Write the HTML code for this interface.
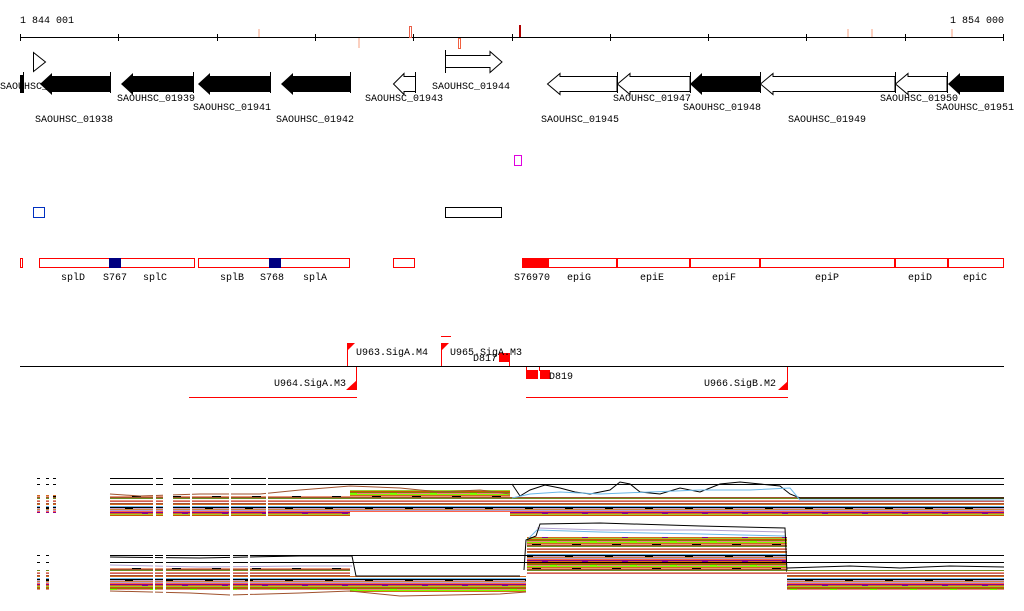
<!DOCTYPE html>
<html><head><meta charset="utf-8"><style>
html,body{margin:0;padding:0;background:#fff;width:1024px;height:611px;overflow:hidden}
svg text{font-family:"Liberation Mono",monospace;font-size:10px;fill:#000}
</style></head><body>
<svg width="1024" height="611" viewBox="0 0 1024 611" xmlns="http://www.w3.org/2000/svg">
<defs>
<pattern id="band" width="40" height="24" patternUnits="userSpaceOnUse">
<rect width="40" height="24" fill="#e07040"/>
<rect y="0" width="40" height="1" fill="#d2691e"/>
<rect y="1" width="40" height="1" fill="#fff"/>
<rect y="2" width="40" height="1" fill="#6ab7e8"/>
<rect y="3" width="40" height="1" fill="#000"/>
<rect y="4" width="40" height="1" fill="#c8a0c8"/>
<rect y="5" width="40" height="1" fill="#cd853f"/>
<rect y="6" width="40" height="1" fill="#b0a0d0"/>
<rect y="7" width="40" height="1" fill="#ff6347"/>
<rect y="8" width="40" height="1" fill="#8b008b"/>
<rect y="9" width="40" height="1" fill="#d2691e"/>
<rect y="10" width="40" height="1" fill="#9acd32"/>
<rect y="11" width="40" height="1" fill="#cc5500"/>
<rect y="12" width="40" height="1" fill="#808000"/>
<rect y="13" width="40" height="1" fill="#f08080"/>
<rect y="14" width="40" height="1" fill="#7cfc00"/>
<rect y="15" width="40" height="1" fill="#d2691e"/>
<rect y="16" width="40" height="1" fill="#e9967a"/>
<rect y="17" width="40" height="1" fill="#a0522d"/>
<rect y="18" width="40" height="1" fill="#6b8e23"/>
<rect y="19" width="40" height="1" fill="#fff"/>
<rect y="20" width="40" height="1" fill="#e9967a"/>
<rect y="21" width="40" height="1" fill="#cd5c5c"/>
<rect y="22" width="40" height="1" fill="#fff"/>
<rect y="23" width="40" height="1" fill="#a0522d"/>
<rect x="5" y="4" width="8" height="1" fill="#000"/>
<rect x="22" y="9" width="6" height="1" fill="#8b008b"/>
<rect x="30" y="13" width="7" height="1" fill="#7cfc00"/>
<rect x="12" y="16" width="9" height="1" fill="#000"/>
</pattern>
</defs>
<!-- axis -->
<text x="20" y="23">1 844 001</text>
<text x="1004" y="23" text-anchor="end">1 854 000</text>
<line x1="20" y1="37.5" x2="1004" y2="37.5" stroke="#000"/>
<g stroke="#000">
<line x1="20.5" y1="34" x2="20.5" y2="41"/><line x1="118.5" y1="34" x2="118.5" y2="41"/><line x1="217.5" y1="34" x2="217.5" y2="41"/><line x1="315.5" y1="34" x2="315.5" y2="41"/><line x1="413.5" y1="34" x2="413.5" y2="41"/><line x1="512.5" y1="34" x2="512.5" y2="41"/><line x1="610.5" y1="34" x2="610.5" y2="41"/><line x1="708.5" y1="34" x2="708.5" y2="41"/><line x1="806.5" y1="34" x2="806.5" y2="41"/><line x1="905.5" y1="34" x2="905.5" y2="41"/><line x1="1003.5" y1="34" x2="1003.5" y2="41"/>
</g>
<rect x="258" y="29" width="2" height="8" fill="#fbd0c0"/>
<rect x="358" y="38" width="2" height="10" fill="#fbd0c0"/>
<rect x="409.5" y="26.5" width="2" height="11" fill="none" stroke="#e8604a"/>
<rect x="458.5" y="38.5" width="2" height="10" fill="none" stroke="#f06040"/>
<rect x="519" y="25" width="2" height="12" fill="#b00000"/>
<rect x="847" y="29" width="2" height="8" fill="#fbd0c0"/>
<rect x="871" y="29" width="2" height="8" fill="#fbd0c0"/>
<rect x="951" y="29" width="2" height="8" fill="#fbd0c0"/>
<!-- genes -->
<polygon points="33.5,52.5 45.5,62 33.5,71.5" fill="#fff" stroke="#000"/>
<polygon points="445.5,55.5 490,55.5 490,51.5 502,62 490,72.5 490,67.5 445.5,67.5" fill="#fff" stroke="#000"/>
<line x1="445.5" y1="50" x2="445.5" y2="73" stroke="#000"/>
<g fill="#000">
<rect x="20" y="75" width="4" height="18"/>
<polygon points="40,84 52,73 52,76 110,76 110,92 52,92 52,95"/>
<polygon points="121,84 133,73 133,76 193,76 193,92 133,92 133,95"/>
<polygon points="198,84 210,73 210,76 270,76 270,92 210,92 210,95"/>
<polygon points="281,84 293,73 293,76 350,76 350,92 293,92 293,95"/>
<polygon points="690,84 702,73 702,76 760,76 760,92 702,92 702,95"/>
<polygon points="948,84 960,73 960,76 1004,76 1004,92 960,92 960,95"/>
</g>
<g fill="#fff" stroke="#000">
<polygon points="393.5,84 404,73.5 404,76.5 415.5,76.5 415.5,91.5 404,91.5 404,94.5"/>
<polygon points="547.5,84 560,73.5 560,76.5 617,76.5 617,91.5 560,91.5 560,94.5"/>
<polygon points="617.5,84 630,73.5 630,76.5 690,76.5 690,91.5 630,91.5 630,94.5"/>
<polygon points="760.5,84 773,73.5 773,76.5 895,76.5 895,91.5 773,91.5 773,94.5"/>
<polygon points="895.5,84 908,73.5 908,76.5 947,76.5 947,91.5 908,91.5 908,94.5"/>
</g>
<g stroke="#000">
<line x1="23.5" y1="72" x2="23.5" y2="93"/><line x1="110.5" y1="72" x2="110.5" y2="93"/><line x1="193.5" y1="72" x2="193.5" y2="93"/><line x1="270.5" y1="72" x2="270.5" y2="93"/><line x1="350.5" y1="72" x2="350.5" y2="93"/><line x1="415.5" y1="72" x2="415.5" y2="93"/><line x1="617.5" y1="72" x2="617.5" y2="93"/><line x1="690.5" y1="72" x2="690.5" y2="93"/><line x1="760.5" y1="72" x2="760.5" y2="93"/><line x1="895.5" y1="72" x2="895.5" y2="93"/><line x1="947.5" y1="72" x2="947.5" y2="93"/>
</g>
<text x="0" y="89">SAOUHSC_</text>
<text x="117" y="101">SAOUHSC_01939</text>
<text x="193" y="110">SAOUHSC_01941</text>
<text x="35" y="122">SAOUHSC_01938</text>
<text x="276" y="122">SAOUHSC_01942</text>
<text x="365" y="101">SAOUHSC_01943</text>
<text x="432" y="89">SAOUHSC_01944</text>
<text x="541" y="122">SAOUHSC_01945</text>
<text x="613" y="101">SAOUHSC_01947</text>
<text x="683" y="110">SAOUHSC_01948</text>
<text x="788" y="122">SAOUHSC_01949</text>
<text x="880" y="101">SAOUHSC_01950</text>
<text x="936" y="110">SAOUHSC_01951</text>
<!-- misc boxes -->
<rect x="514.5" y="155.5" width="7" height="10" fill="none" stroke="#e000e0"/>
<rect x="33.5" y="207.5" width="11" height="10" fill="none" stroke="#0030c0"/>
<rect x="445.5" y="207.5" width="56" height="10" fill="none" stroke="#000"/>
<!-- red operon row -->
<g fill="none" stroke="#f00">
<rect x="20.5" y="258.5" width="2" height="9"/>
<rect x="39.5" y="258.5" width="155" height="9"/>
<rect x="198.5" y="258.5" width="151" height="9"/>
<rect x="393.5" y="258.5" width="21" height="9"/>
<rect x="548.5" y="258.5" width="68" height="9"/>
<rect x="617.5" y="258.5" width="72" height="9"/>
<rect x="690.5" y="258.5" width="69" height="9"/>
<rect x="760.5" y="258.5" width="134" height="9"/>
<rect x="895.5" y="258.5" width="52" height="9"/>
<rect x="948.5" y="258.5" width="55" height="9"/>
</g>
<rect x="109" y="258" width="12" height="10" fill="#000080"/>
<rect x="269" y="258" width="12" height="10" fill="#000080"/>
<rect x="522" y="258" width="26" height="10" fill="#f00"/>
<text x="61" y="280">splD</text><text x="103" y="280">S767</text><text x="143" y="280">splC</text>
<text x="220" y="280">splB</text><text x="260" y="280">S768</text><text x="303" y="280">splA</text>
<text x="514" y="280">S76970</text><text x="567" y="280">epiG</text><text x="640" y="280">epiE</text>
<text x="712" y="280">epiF</text><text x="815" y="280">epiP</text><text x="908" y="280">epiD</text><text x="963" y="280">epiC</text>
<!-- promoter track -->
<line x1="20" y1="366.5" x2="1004" y2="366.5" stroke="#000"/>
<g fill="#f00">
<rect x="347" y="343" width="1" height="23"/>
<rect x="441" y="343" width="1" height="23"/>
<rect x="441" y="336" width="10" height="1"/>
<rect x="509" y="357" width="1" height="9"/>
<rect x="356" y="367" width="1" height="23"/>
<rect x="189" y="397" width="168" height="1"/>
<rect x="526" y="397" width="262" height="1"/>
<rect x="787" y="367" width="1" height="23"/>
<rect x="526" y="367" width="1" height="4"/>
<rect x="539" y="367" width="1" height="4"/>
<polygon points="347,343 355,343 347,351"/>
<polygon points="441,343 449,343 441,351"/>
<rect x="499" y="353" width="11" height="9"/>
<polygon points="357,380 357,390 346,390"/>
<polygon points="788,381 788,390 778,390"/>
<rect x="526" y="370" width="12" height="9"/>
<rect x="540" y="370" width="10" height="9"/>
</g>
<text x="356" y="355">U963.SigA.M4</text>
<text x="450" y="355">U965.SigA.M3</text>
<text x="473" y="361">D817</text>
<text x="346" y="386" text-anchor="end">U964.SigA.M3</text>
<text x="549" y="379">D819</text>
<text x="776" y="386" text-anchor="end">U966.SigB.M2</text>
<!-- expression track 1 -->
<g stroke="#000">
<line x1="110" y1="478.5" x2="1004" y2="478.5"/>
<line x1="110" y1="484.5" x2="1004" y2="484.5"/>
</g>
<rect x="110" y="496" width="240" height="20" fill="url(#band)"/>
<rect x="350" y="490" width="160" height="22" fill="url(#band)"/>
<rect x="510" y="497" width="494" height="19" fill="url(#band)"/>
<polyline fill="none" stroke="#000" points="512,484 520,496 530,490 545,485 560,488 575,492 590,494 610,490 620,482 630,484 640,492 660,494 680,488 700,492 720,484 740,482 760,484 780,486 790,494 800,498 1004,498"/>
<polyline fill="none" stroke="#6ab7e8" points="512,498 530,494 560,492 600,494 650,492 700,490 750,490 790,488 800,500 1004,500"/>
<polyline fill="none" stroke="#a0522d" points="110,494 140,496 200,494 260,494 300,490 350,486 400,488 440,492 480,490 510,494"/>
<rect x="153" y="470" width="3" height="60" fill="#fff"/>
<rect x="163" y="470" width="10" height="60" fill="#fff"/>
<rect x="190" y="470" width="2" height="60" fill="#fff"/>
<rect x="229" y="470" width="2" height="60" fill="#fff"/>
<rect x="266" y="470" width="2" height="60" fill="#fff"/>
<!-- expression track 2 -->
<rect x="527" y="537" width="260" height="38" fill="url(#band)"/>
<polyline fill="none" stroke="#6ab7e8" points="527,540 537,530 600,532 700,534 785,536"/>
<polyline fill="none" stroke="#b0a0d0" points="537,528 600,530 700,530 785,532"/>
<polyline fill="none" stroke="#000" points="524,570 526,540 536,536 540,524 600,523 700,526 785,528 787,572"/>
<g stroke="#000">
<line x1="110" y1="555.5" x2="1004" y2="555.5"/>
<line x1="110" y1="562.5" x2="1004" y2="562.5"/>
</g>
<rect x="110" y="568" width="240" height="22" fill="url(#band)"/>
<rect x="350" y="576" width="176" height="16" fill="url(#band)"/>
<rect x="787" y="570" width="217" height="20" fill="url(#band)"/>
<polyline fill="none" stroke="#000" points="110,557 200,558 300,556 352,556 356,576 520,576"/>
<polyline fill="none" stroke="#a0522d" points="110,591 190,593 230,595 300,593 350,591 400,596 500,594 526,592"/>
<polyline fill="none" stroke="#b0a0d0" points="110,565 200,567 300,566 352,566"/>
<polyline fill="none" stroke="#000" points="787,568 850,566 900,568 950,566 1004,567"/>
<rect x="153" y="545" width="2" height="55" fill="#fff"/>
<rect x="163" y="545" width="3" height="55" fill="#fff"/>
<rect x="230" y="545" width="3" height="55" fill="#fff"/>
<rect x="248" y="545" width="2" height="55" fill="#fff"/>
<!-- left mini labels -->
<g fill="#000">
<rect x="37" y="478" width="3" height="1"/><rect x="46" y="478" width="3" height="1"/><rect x="53" y="478" width="3" height="1"/>
<rect x="37" y="484" width="3" height="1"/><rect x="46" y="484" width="3" height="1"/><rect x="53" y="484" width="3" height="1"/>
<rect x="37" y="555" width="3" height="1"/><rect x="46" y="555" width="3" height="1"/>
<rect x="37" y="562" width="3" height="1"/><rect x="46" y="562" width="3" height="1"/>
</g>
<rect x="37" y="495" width="3" height="18" fill="url(#band)"/>
<rect x="46" y="495" width="3" height="18" fill="url(#band)"/>
<rect x="53" y="495" width="3" height="18" fill="url(#band)"/>
<rect x="37" y="570" width="3" height="20" fill="url(#band)"/>
<rect x="46" y="570" width="3" height="20" fill="url(#band)"/>
</svg>
</body></html>
